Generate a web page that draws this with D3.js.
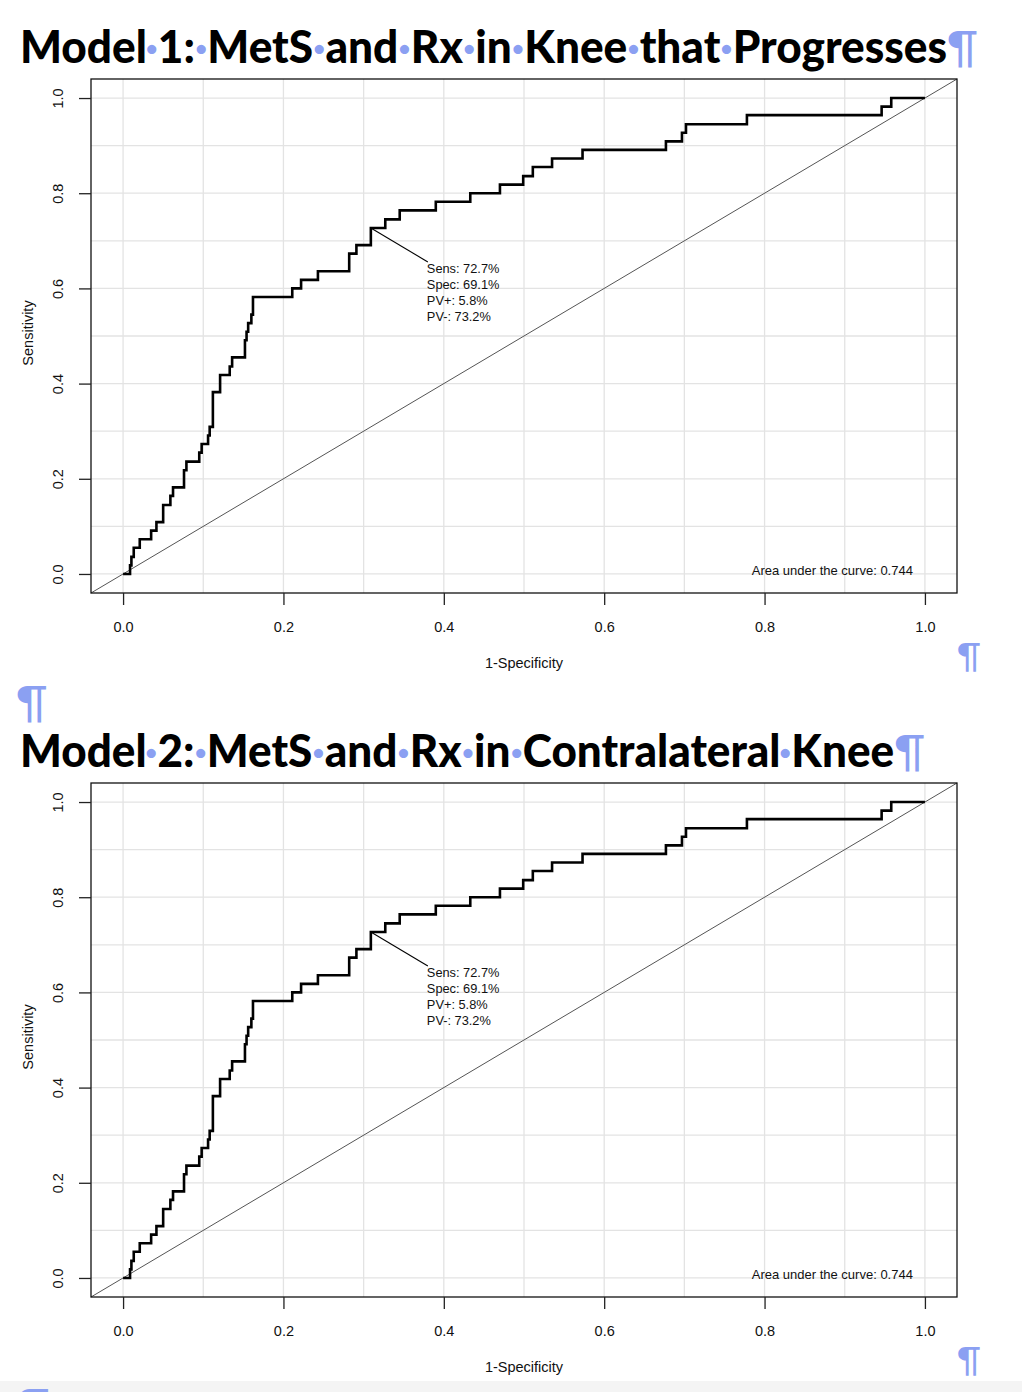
<!DOCTYPE html>
<html>
<head>
<meta charset="utf-8">
<script src="https://cdn.jsdelivr.net/npm/d3@7"></script>
<style>
  body { margin: 0; background: #fff; }
  svg { display: block; }
</style>
</head>
<body>
<div id="page"></div>
<script>
// ROC step points (1-specificity, sensitivity after the jump)
var fprSteps = [0.0087, 0.0104, 0.0133, 0.0208, 0.035, 0.0416, 0.050, 0.059, 0.0623, 0.076,
    0.079, 0.095, 0.098, 0.106, 0.108, 0.112, 0.121, 0.133, 0.136, 0.152,
    0.154, 0.156, 0.160, 0.162, 0.211, 0.222, 0.243, 0.282, 0.291, 0.309,
    0.327, 0.345, 0.390, 0.433, 0.470, 0.499, 0.511, 0.535, 0.573, 0.677,
    0.697, 0.702, 0.778, 0.946, 0.958];
var sensSteps = [0.018, 0.036, 0.055, 0.073, 0.091, 0.109, 0.145, 0.164, 0.182, 0.218,
    0.236, 0.255, 0.273, 0.291, 0.309, 0.382, 0.418, 0.436, 0.455, 0.491,
    0.509, 0.527, 0.545, 0.582, 0.600, 0.618, 0.636, 0.673, 0.691, 0.727,
    0.745, 0.764, 0.782, 0.800, 0.818, 0.836, 0.855, 0.873, 0.891, 0.909,
    0.927, 0.945, 0.964, 0.982, 1.000];

var axisTicks = [0, 0.2, 0.4, 0.6, 0.8, 1.0];
var gridTicks = [0, 0.1, 0.2, 0.3, 0.4, 0.5, 0.6, 0.7, 0.8, 0.9, 1.0];

var threshold = { fpr: 0.309, sens: 0.727 };
var thresholdLines = ["Sens: 72.7%", "Spec: 69.1%", "PV+: 5.8%", "PV-: 73.2%"];
var aucLabel = "Area under the curve: 0.744";

var titles = [
    ["Model", "1:", "MetS", "and", "Rx", "in", "Knee", "that", "Progresses"],
    ["Model", "2:", "MetS", "and", "Rx", "in", "Contralateral", "Knee"]
];

var blue = "#8ba0f2";
var width = 1022, height = 1392;
var panelShift = 704;

var svg = d3.select("#page")
    .append("svg")
    .attr("width", width)
    .attr("height", height);

// light grey strip at the very bottom (next page edge)
svg.append("rect")
    .attr("x", 0).attr("y", 1381)
    .attr("width", width).attr("height", 11)
    .attr("fill", "#f4f4f4");

// the step path built from the arrays
var rocPoints = [[0, 0]];
fprSteps.forEach(function(f, i) {
    var prev = i === 0 ? 0 : sensSteps[i - 1];
    rocPoints.push([f, prev]);
    rocPoints.push([f, sensSteps[i]]);
});
rocPoints.push([1, 1]);

var x = d3.scaleLinear().domain([-0.04, 1.04]).range([91, 957]);
var y = d3.scaleLinear().domain([-0.04, 1.04]).range([593, 79]);

function drawTitle(words, baseline, totalLen) {
    var t = svg.append("text")
        .attr("x", 20)
        .attr("y", baseline)
        .attr("textLength", totalLen)
        .attr("lengthAdjust", "spacingAndGlyphs")
        .style("font-family", "Lato, 'Open Sans', sans-serif")
        .style("font-weight", 900)
        .style("font-size", "45px")
        .style("fill", "#000");
    words.forEach(function(w, i) {
        if (i > 0) t.append("tspan").style("fill", blue).text("\u00b7");
        t.append("tspan").text(w);
    });
    t.append("tspan").style("fill", blue).style("font-weight", 400).text("\u00b6");
}

function pilcrow(px, baseline, size) {
    svg.append("text")
        .attr("x", px).attr("y", baseline)
        .style("font-family", "Lato, sans-serif")
        .style("font-size", size + "px")
        .style("fill", blue)
        .text("\u00b6");
}

function drawRoc(offsetY) {
    var g = svg.append("g").attr("transform", "translate(0," + offsetY + ")");
    var font = "'Liberation Sans', Arial, sans-serif";

    // grid
    g.selectAll(".vgrid").data(gridTicks).enter().append("line")
        .attr("x1", d => x(d)).attr("x2", d => x(d))
        .attr("y1", y(-0.04)).attr("y2", y(1.04))
        .attr("stroke", "#e3e3e3").attr("stroke-width", 1.3);
    g.selectAll(".hgrid").data(gridTicks).enter().append("line")
        .attr("x1", x(-0.04)).attr("x2", x(1.04))
        .attr("y1", d => y(d)).attr("y2", d => y(d))
        .attr("stroke", "#e3e3e3").attr("stroke-width", 1.3);

    // chance diagonal
    g.append("line")
        .attr("x1", x(-0.04)).attr("y1", y(-0.04))
        .attr("x2", x(1.04)).attr("y2", y(1.04))
        .attr("stroke", "#555").attr("stroke-width", 1);

    // roc curve
    var line = d3.line().x(d => x(d[0])).y(d => y(d[1]));
    g.append("path")
        .datum(rocPoints)
        .attr("d", line)
        .attr("fill", "none")
        .attr("stroke", "#000")
        .attr("stroke-width", 2.6)
        .attr("stroke-linejoin", "miter");

    // box
    g.append("rect")
        .attr("x", x(-0.04)).attr("y", y(1.04))
        .attr("width", x(1.04) - x(-0.04))
        .attr("height", y(-0.04) - y(1.04))
        .attr("fill", "none")
        .attr("stroke", "#111").attr("stroke-width", 1.3);

    // x axis
    var xAxis = d3.axisBottom(x).tickValues(axisTicks).tickFormat(d3.format(".1f"))
        .tickSize(12).tickPadding(17);
    var xg = g.append("g").attr("transform", "translate(0," + y(-0.04) + ")").call(xAxis);
    xg.select(".domain").remove();
    xg.selectAll("line").attr("stroke", "#222").attr("stroke-width", 1.3);
    xg.selectAll("text").style("font-family", font).style("font-size", "14.5px").style("fill", "#111");

    // y axis, labels turned like R's default
    var yAxis = d3.axisLeft(y).tickValues(axisTicks).tickFormat(d3.format(".1f"))
        .tickSize(12).tickPadding(0);
    var yg = g.append("g").attr("transform", "translate(" + x(-0.04) + ",0)").call(yAxis);
    yg.select(".domain").remove();
    yg.selectAll("line").attr("stroke", "#222").attr("stroke-width", 1.3);
    yg.selectAll("text")
        .attr("x", 0).attr("y", 0).attr("dy", null)
        .attr("transform", "translate(-33,0) rotate(-90)")
        .attr("text-anchor", "middle")
        .attr("dominant-baseline", "central")
        .style("font-family", font).style("font-size", "14.5px").style("fill", "#111");

    // axis titles
    g.append("text")
        .attr("x", (x(-0.04) + x(1.04)) / 2)
        .attr("y", 668)
        .attr("text-anchor", "middle")
        .style("font-family", font).style("font-size", "14.5px").style("fill", "#111")
        .text("1-Specificity");
    g.append("text")
        .attr("transform", "translate(28," + 333 + ") rotate(-90)")
        .attr("text-anchor", "middle")
        .attr("dominant-baseline", "central")
        .style("font-family", font).style("font-size", "14.5px").style("fill", "#111")
        .text("Sensitivity");

    // threshold annotation
    var tx = x(threshold.fpr), ty = y(threshold.sens);
    g.append("line")
        .attr("x1", tx).attr("y1", ty)
        .attr("x2", tx + 57).attr("y2", ty + 34)
        .attr("stroke", "#000").attr("stroke-width", 1.1);
    g.selectAll(".thr").data(thresholdLines).enter().append("text")
        .attr("x", tx + 56)
        .attr("y", (d, i) => ty + 45.5 + i * 15.8)
        .style("font-family", font).style("font-size", "12.8px").style("fill", "#111")
        .text(d => d);

    // auc
    g.append("text")
        .attr("x", x(1) - 12)
        .attr("y", y(0) + 1.5)
        .attr("text-anchor", "end")
        .style("font-family", font).style("font-size", "13px").style("fill", "#111")
        .text(aucLabel);
}

drawTitle(titles[0], 63, 958);
drawRoc(0);
pilcrow(957, 668, 34);
pilcrow(16, 718, 45);
drawTitle(titles[1], 767, 905);
drawRoc(panelShift);
pilcrow(957, 1372, 34);
pilcrow(18, 1421, 45);
</script>
</body>
</html>
